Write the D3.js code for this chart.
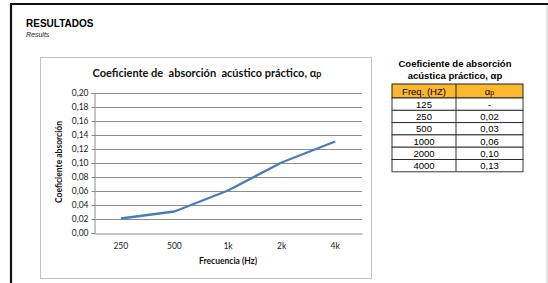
<!DOCTYPE html>
<html>
<head>
<meta charset="utf-8">
<script src="https://cdnjs.cloudflare.com/ajax/libs/d3/7.8.5/d3.min.js"></script>
<style>
body{margin:0;background:#fff;}
svg{display:block;}
text{white-space:pre;}
</style>
</head>
<body>
<svg></svg>
<script>
var width=548;
var height=283;

// chart data
var freqs=["250","500","1k","2k","4k"];
var alphas=[0.02,0.03,0.06,0.10,0.13];
var yTicks=[0,0.02,0.04,0.06,0.08,0.10,0.12,0.14,0.16,0.18,0.20];

// table data
var tableFreqs=["125","250","500","1000","2000","4000"];
var tableAlphas=["-","0,02","0,03","0,06","0,10","0,13"];

var svg=d3.select("svg")
	.attr("width",width)
	.attr("height",height);

// page frame
svg.append("line").attr("x1",11).attr("x2",11).attr("y1",4).attr("y2",height)
	.attr("stroke","#111").attr("stroke-width",2.2);
svg.append("line").attr("x1",10).attr("x2",width).attr("y1",4).attr("y2",4)
	.attr("stroke","#111").attr("stroke-width",2.2);
svg.append("line").attr("x1",547).attr("x2",547).attr("y1",5).attr("y2",height)
	.attr("stroke","#ccc").attr("stroke-width",1);

svg.append("text")
	.attr("x",26).attr("y",27)
	.style("font-family","Liberation Sans, Arial, sans-serif")
	.style("font-weight","bold").style("font-size","10px")
	.text("RESULTADOS");
svg.append("text")
	.attr("x",26).attr("y",37)
	.style("font-family","Liberation Sans, Arial, sans-serif")
	.style("font-style","italic").style("font-size","7px")
	.style("fill","#222")
	.text("Results");

// chart box
svg.append("rect")
	.attr("x",40.5).attr("y",57.5).attr("width",331).attr("height",221)
	.attr("fill","#fff").attr("stroke","#c4c4c4");

var scalex=d3.scaleBand()
	.domain(freqs)
	.range([94,362]);

var scaley=d3.scaleLinear()
	.domain([0,0.2])
	.range([232.5,92.5]);

var chartFont="Lato, Open Sans, sans-serif";

// gridlines
svg.append("g")
	.selectAll("line")
	.data(yTicks.slice(1))
	.enter()
	.append("line")
	.attr("x1",94).attr("x2",362)
	.attr("y1",d=>Math.round(scaley(d))+0.5)
	.attr("y2",d=>Math.round(scaley(d))+0.5)
	.attr("stroke","#8c8c8c").attr("stroke-width",1);

var yaxis=d3.axisLeft(scaley)
	.tickValues(yTicks)
	.tickSize(3)
	.tickFormat(d=>d3.format(".2f")(d).replace(".",","));

var gy=svg.append("g")
	.attr("transform","translate(94.5,0.5)")
	.call(yaxis);
gy.select(".domain").attr("stroke","#8c8c8c");
gy.selectAll(".tick line").attr("stroke","#8c8c8c");
gy.selectAll(".tick text")
	.attr("x",-6)
	.style("font-family",chartFont).style("font-size","8.5px").style("fill","#222");

var xaxis=d3.axisBottom(scalex)
	.tickSize(0)
	.tickPadding(9);

var gx=svg.append("g")
	.attr("transform","translate(0,"+(Math.round(scaley(0))+0.5)+")")
	.call(xaxis);
gx.select(".domain").attr("stroke","#8c8c8c");
gx.selectAll(".tick text")
	.style("font-family",chartFont).style("font-size","8.5px").style("fill","#222");

// the line
var line=d3.line()
	.x((d,i)=>scalex(freqs[i])+scalex.bandwidth()/2)
	.y(d=>scaley(d));

svg.append("path")
	.datum(alphas)
	.attr("d",line)
	.attr("fill","none")
	.attr("stroke","#4a7ebb")
	.attr("stroke-width",2.4)
	.attr("stroke-linejoin","round");

// titles
var title=svg.append("text")
	.attr("x",207).attr("y",77)
	.style("text-anchor","middle")
	.style("font-family",chartFont).style("font-weight","bold").style("font-size","11px")
	.style("fill","#111")
	.text("Coeficiente de  absorción  acústico práctico, α");
title.append("tspan").style("font-size","9px").text("p");

svg.append("text")
	.attr("x",228).attr("y",264)
	.style("text-anchor","middle")
	.style("font-family",chartFont).style("font-weight","bold").style("font-size","8.5px")
	.style("fill","#111")
	.text("Frecuencia (Hz)");

svg.append("text")
	.attr("transform","translate(62,162) rotate(-90)")
	.style("text-anchor","middle")
	.style("font-family",chartFont).style("font-weight","bold").style("font-size","8.5px")
	.style("fill","#111")
	.text("Coeficiente absorción");

// table
var tableFont="Liberation Sans, Arial, sans-serif";
svg.append("text")
	.attr("x",455).attr("y",67)
	.style("text-anchor","middle")
	.style("font-family",tableFont).style("font-weight","bold").style("font-size","9.5px")
	.text("Coeficiente de absorción");
var tt=svg.append("text")
	.attr("x",455).attr("y",79)
	.style("text-anchor","middle")
	.style("font-family",tableFont).style("font-weight","bold").style("font-size","9.5px")
	.text("acústica práctico, α");
tt.append("tspan").text("p");

var tx0=392, tx1=456, tx2=523;
var headerTop=84, headerH=14, rowH=12.3;

svg.append("rect")
	.attr("x",tx0).attr("y",headerTop).attr("width",tx2-tx0).attr("height",headerH)
	.attr("fill","#fbb72e").attr("stroke","#222");
svg.append("line").attr("x1",tx1).attr("x2",tx1).attr("y1",headerTop).attr("y2",headerTop+headerH)
	.attr("stroke","#222");
svg.append("text")
	.attr("x",(tx0+tx1)/2).attr("y",headerTop+10.5)
	.style("text-anchor","middle")
	.style("font-family",tableFont).style("font-size","9.5px")
	.text("Freq. (HZ)");
var hα=svg.append("text")
	.attr("x",(tx1+tx2)/2).attr("y",headerTop+10.5)
	.style("text-anchor","middle")
	.style("font-family",tableFont).style("font-size","9.5px")
	.text("α");
hα.append("tspan").style("font-size","7px").text("p");

var rows=svg.append("g")
	.selectAll("g")
	.data(tableFreqs)
	.enter()
	.append("g")
	.attr("transform",(d,i)=>"translate(0,"+(headerTop+headerH+i*rowH)+")");

rows.append("rect")
	.attr("x",tx0).attr("y",0).attr("width",tx2-tx0).attr("height",rowH)
	.attr("fill","#fff").attr("stroke","#222").attr("stroke-width",0.9);
rows.append("line")
	.attr("x1",tx1).attr("x2",tx1).attr("y1",0).attr("y2",rowH)
	.attr("stroke","#222").attr("stroke-width",0.9);
rows.append("text")
	.attr("x",(tx0+tx1)/2).attr("y",9.8)
	.style("text-anchor","middle")
	.style("font-family",tableFont).style("font-size","9.5px")
	.text(d=>d);
rows.append("text")
	.attr("x",(tx1+tx2)/2).attr("y",9.8)
	.style("text-anchor","middle")
	.style("font-family",tableFont).style("font-size","9.5px")
	.text((d,i)=>tableAlphas[i]);
</script>
</body>
</html>
